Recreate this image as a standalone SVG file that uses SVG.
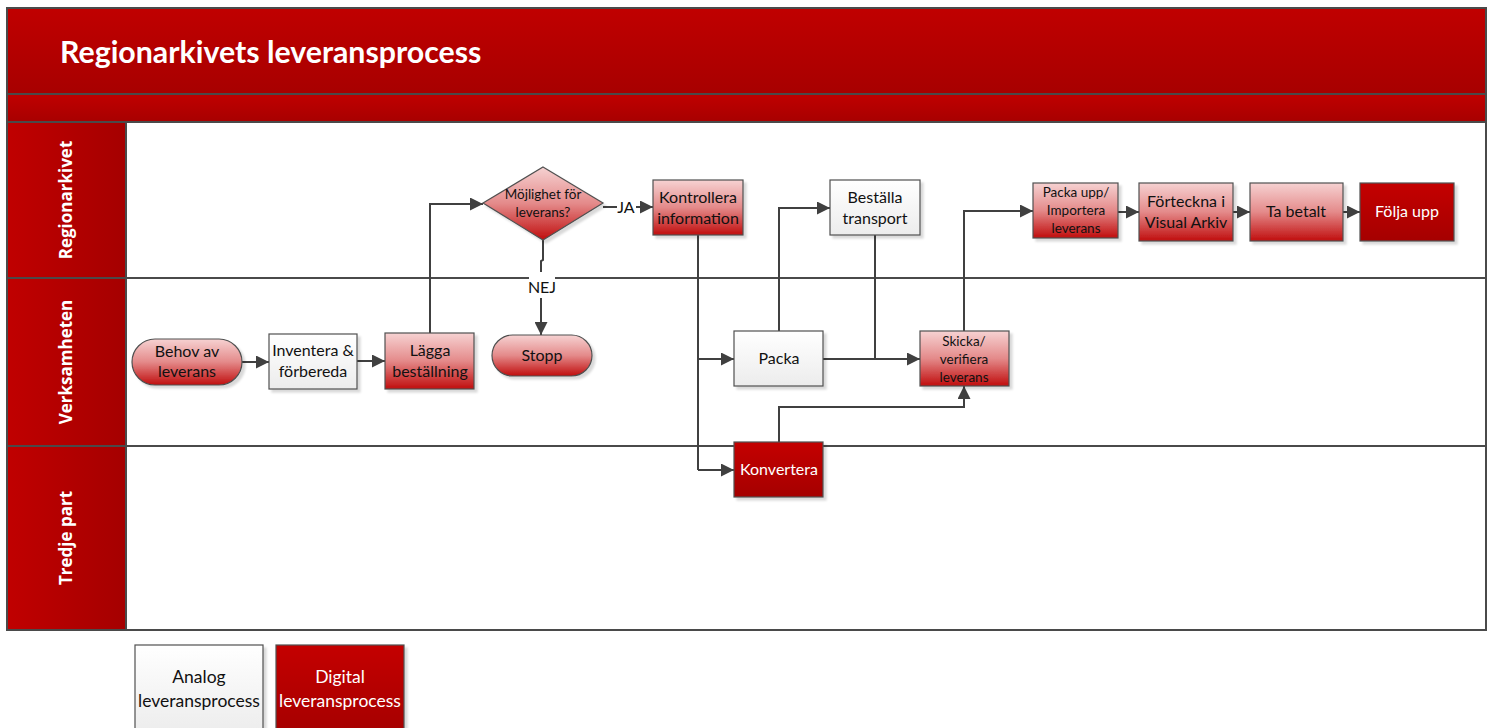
<svg xmlns="http://www.w3.org/2000/svg" width="1493" height="728" viewBox="0 0 1493 728">
<defs>
<linearGradient id="gRed" x1="0" y1="0" x2="0" y2="1"><stop offset="0" stop-color="#f6d2d2"/><stop offset="0.5" stop-color="#e48a8a"/><stop offset="1" stop-color="#c00d0d"/></linearGradient>
<linearGradient id="gWhite" x1="0" y1="0" x2="0" y2="1"><stop offset="0" stop-color="#ffffff"/><stop offset="1" stop-color="#ececec"/></linearGradient>
<linearGradient id="gDark" x1="0" y1="0" x2="0" y2="1"><stop offset="0" stop-color="#c40000"/><stop offset="1" stop-color="#a50000"/></linearGradient>
<linearGradient id="gTitle" x1="0" y1="0" x2="0" y2="1"><stop offset="0" stop-color="#c00000"/><stop offset="1" stop-color="#a70000"/></linearGradient>
<linearGradient id="gLane" x1="0" y1="0" x2="1" y2="0"><stop offset="0" stop-color="#c00000"/><stop offset="1" stop-color="#a50000"/></linearGradient>
<filter id="sh" x="-10%" y="-10%" width="130%" height="130%"><feDropShadow dx="3" dy="3" stdDeviation="1" flood-color="#000" flood-opacity="0.15"/></filter>
<marker id="arr" viewBox="0 0 10 10" refX="10" refY="5" markerWidth="13" markerHeight="13" orient="auto" markerUnits="userSpaceOnUse"><path d="M0,0 L10,5 L0,10 z" fill="#404040"/></marker>
<style>
.frame{fill:none;stroke:#4a4a4a;stroke-width:2}
.lane{stroke:#4a4a4a;stroke-width:2}
.nr{fill:url(#gRed);stroke:#505050;stroke-width:1.2;filter:url(#sh)}
.nw{fill:url(#gWhite);stroke:#505050;stroke-width:1.2;filter:url(#sh)}
.nd{fill:url(#gDark);stroke:#505050;stroke-width:1.2;filter:url(#sh)}
.t{font-family:Lato,"Liberation Sans",sans-serif;font-size:16px;fill:#111;text-anchor:middle}
.ts{font-family:Lato,"Liberation Sans",sans-serif;font-size:13.5px;fill:#111;text-anchor:middle}
.tw{font-family:Lato,"Liberation Sans",sans-serif;font-size:16px;fill:#fff;text-anchor:middle}
.tl{font-family:Lato,"Liberation Sans",sans-serif;font-size:17.5px;text-anchor:middle}
.lt{font-family:"Open Sans","Liberation Sans",sans-serif;font-size:17px;font-weight:bold;fill:#fff;text-anchor:middle}
.c{fill:none;stroke:#404040;stroke-width:2}
.ca{fill:none;stroke:#404040;stroke-width:2;marker-end:url(#arr)}
</style>
</defs>
<rect x="0" y="0" width="1493" height="728" fill="#fff"/>
<g id="pool">
<rect x="7" y="8" width="1479" height="86" fill="url(#gTitle)"/>
<rect x="7" y="94" width="1479" height="28" fill="url(#gTitle)"/>
<rect x="7" y="122" width="119" height="508" fill="url(#gLane)"/>
<line class="lane" x1="7" y1="94" x2="1486" y2="94"/>
<line class="lane" x1="7" y1="122" x2="1486" y2="122"/>
<line class="lane" x1="7" y1="278" x2="1486" y2="278"/>
<line class="lane" x1="7" y1="446" x2="1486" y2="446"/>
<line class="lane" x1="126" y1="122" x2="126" y2="630"/>
<rect class="frame" x="7" y="8" width="1479" height="622"/>
<text x="60" y="63" font-family="Lato,'Liberation Sans',sans-serif" font-size="30.3" font-weight="bold" fill="#fff">Regionarkivets leveransprocess</text>
<text class="lt" transform="translate(72,200) rotate(-90)">Regionarkivet</text>
<text class="lt" transform="translate(72,362) rotate(-90)">Verksamheten</text>
<text class="lt" transform="translate(72,538) rotate(-90)">Tredje part</text>
</g>
<g id="connectors">
<line class="ca" x1="242" y1="362" x2="269" y2="362"/>
<line class="ca" x1="357" y1="361" x2="385" y2="361"/>
<polyline class="ca" points="430,333 430,204 483,204"/>
<line class="c" x1="603" y1="207" x2="617" y2="207"/>
<line class="ca" x1="636" y1="207" x2="653" y2="207"/>
<polyline class="c" points="543,240 543,260 541,261 541,272"/>
<line class="ca" x1="541" y1="298" x2="541" y2="335"/>
<polyline class="c" points="698,235 698,470"/>
<line class="ca" x1="698" y1="359" x2="734" y2="359"/>
<line class="ca" x1="698" y1="470" x2="734" y2="470"/>
<polyline class="ca" points="779,331 779,208 830,208"/>
<line class="ca" x1="823" y1="359" x2="920" y2="359"/>
<polyline class="c" points="875,235 875,359"/>
<polyline class="ca" points="964,331 964,211 1033,211"/>
<polyline class="ca" points="779,442 779,407 964,407 964,386"/>
<line class="ca" x1="1118" y1="212" x2="1139" y2="212"/>
<line class="ca" x1="1233" y1="212" x2="1250" y2="212"/>
<line class="ca" x1="1343" y1="212" x2="1360" y2="212"/>
<rect x="529" y="273" width="26" height="25" fill="#fff"/>
<text class="t" x="626" y="213">JA</text>
<text class="t" x="542" y="293">NEJ</text>
</g>
<g id="behov"><rect class="nr" x="132" y="339" width="110" height="46" rx="23"/><text class="t" x="187" y="357">Behov av</text><text class="t" x="187" y="377">leverans</text></g>
<g id="inventera"><rect class="nw" x="269" y="334" width="88" height="55"/><text class="t" x="313" y="356">Inventera &amp;</text><text class="t" x="313" y="377">förbereda</text></g>
<g id="lagga"><rect class="nr" x="385" y="333" width="89" height="56"/><text class="t" x="430" y="356">Lägga</text><text class="t" x="430" y="377">beställning</text></g>
<g id="mojlighet"><polygon class="nr" points="543,167 603,203 543,240 483,203"/><text class="ts" x="543" y="199">Möjlighet för</text><text class="ts" x="543" y="217">leverans?</text></g>
<g id="stopp"><rect class="nr" x="492" y="335" width="100" height="41" rx="20.5"/><text class="t" x="542" y="361">Stopp</text></g>
<g id="kontrollera"><rect class="nr" x="653" y="180" width="90" height="55"/><text class="t" x="698" y="203">Kontrollera</text><text class="t" x="698" y="224">information</text></g>
<g id="bestalla"><rect class="nw" x="830" y="180" width="90" height="55"/><text class="t" x="875" y="203">Beställa</text><text class="t" x="875" y="224">transport</text></g>
<g id="packa"><rect class="nw" x="734" y="331" width="89" height="55"/><text class="t" x="779" y="364">Packa</text></g>
<g id="skicka"><rect class="nr" x="920" y="331" width="89" height="55"/><text class="ts" x="964" y="346">Skicka/</text><text class="ts" x="964" y="364">verifiera</text><text class="ts" x="964" y="382">leverans</text></g>
<g id="konvertera"><rect class="nd" x="734" y="442" width="89" height="55"/><text class="tw" x="779" y="475">Konvertera</text></g>
<g id="packaupp"><rect class="nr" x="1033" y="183" width="85" height="55"/><text class="ts" x="1076" y="197">Packa upp/</text><text class="ts" x="1076" y="215">Importera</text><text class="ts" x="1076" y="233">leverans</text></g>
<g id="forteckna"><rect class="nr" x="1139" y="183" width="94" height="58"/><text class="t" x="1186" y="207">Förteckna i</text><text class="t" x="1186" y="228">Visual Arkiv</text></g>
<g id="tabetalt"><rect class="nr" x="1250" y="183" width="93" height="58"/><text class="t" x="1296" y="217">Ta betalt</text></g>
<g id="foljaupp"><rect class="nd" x="1360" y="183" width="94" height="58"/><text class="tw" x="1407" y="217">Följa upp</text></g>
<g id="legend-analog"><rect class="nw" x="135" y="645" width="128" height="90"/><text class="tl" fill="#111" x="199" y="683">Analog</text><text class="tl" fill="#111" x="199" y="707">leveransprocess</text></g>
<g id="legend-digital"><rect class="nd" x="276" y="645" width="128" height="90"/><text class="tl" fill="#fff" x="340" y="683">Digital</text><text class="tl" fill="#fff" x="340" y="707">leveransprocess</text></g>
</svg>
